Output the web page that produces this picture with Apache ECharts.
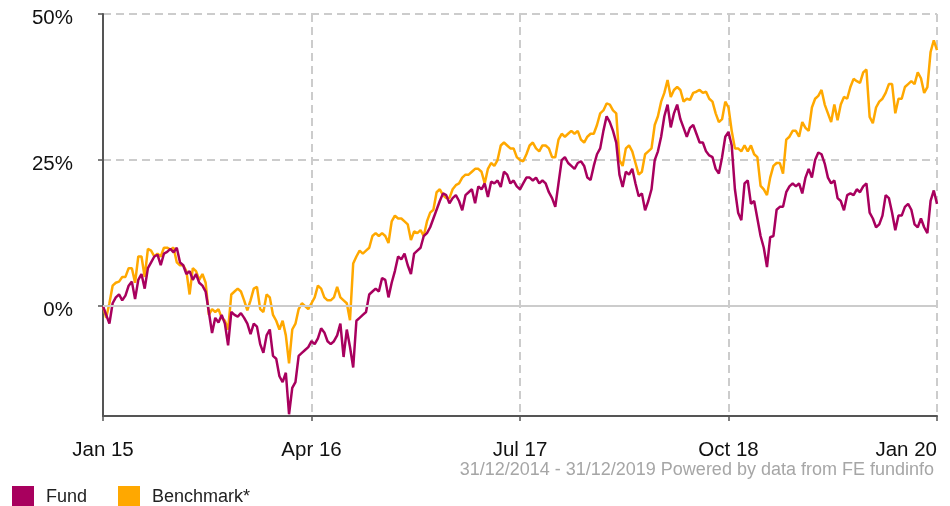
<!DOCTYPE html>
<html>
<head>
<meta charset="utf-8">
<script src="https://cdn.jsdelivr.net/npm/echarts@6/dist/echarts.min.js"></script>
<style>
html,body{margin:0;padding:0;background:#fff;}
#chart{width:950px;height:506px;}
</style>
</head>
<body>
<div id="chart"></div>
<script>
// Weekly sampled cumulative performance (%), 31/12/2014 - 31/12/2019
const xTickLabels = ['Jan 15', 'Apr 16', 'Jul 17', 'Oct 18', 'Jan 20'];
const yTickValues = [0, 25, 50];

const fund = [
0,-1.5,-3,0.5,1.5,2,1,1.8,3.5,4.2,1.2,4.5,5.5,3,6.5,7.5,8.5,8.8,7,9,
9.3,9.8,9.2,10,7.5,7,5.5,6,4.5,5.5,4,3.5,2.5,-1,-4.6,-2,-2.8,-1.5,-3,-6.7,
-1,-1.5,-1.8,-1.2,-2,-3,-4.8,-3,-3.5,-6.5,-8,-5,-4,-8.5,-9,-12,-13,-11.4,-18.5,-14,
-13,-8.5,-8,-7.5,-7,-6,-6.5,-5.5,-3.8,-4.5,-6,-6.5,-6,-5,-3,-8.7,-4,-7,-10.5,-2.5,
-2,-1.5,-1,2,2.5,3,2.5,4.8,4.5,1.5,4,6,8.5,8,9,7,5.5,9,9.5,10,
12,12.5,13.5,15,16.5,18,19.3,19,17.6,18.5,19,18,16.4,19,19.5,20,17.6,20.5,20,21,
18.7,21.3,21,21.5,20.4,23,22.5,21,21.5,20.5,20,21,22,22,21.5,22,21,21.5,21,19.5,
18.5,17,21,25,25.5,24.5,24,23.5,24.5,24.8,24,22,21.6,24,26,27,30,32.5,31.5,30,
28,22.5,20.4,23,22.5,23.5,21,18.8,19.3,16.4,18,20,25,26.5,29,32.5,34.5,30.6,33,34.5,
32,30.5,29,30.5,31,29.5,28,28,26.5,25.8,25.5,23.5,22.7,25.5,29,29.8,27.5,20,16,14.7,
21,21.5,17.5,18,15,12,10,6.7,11.8,12,16.5,17,17,19.5,20.5,21,20.5,21,19.3,22,
23.5,22,25,26.3,26,24.4,22,21,21.5,18.5,18,16.4,19,19.3,19,20,19.5,20.5,21,16,
15,13.5,14,15.5,19,18.5,16,13,15.5,15.5,17,17.5,16.5,14,13.5,15,13.5,12.5,18,19.8,
17.5
];

const benchmark = [
0,-2,0.5,3.5,4,4.2,5,5,6.5,6.5,4,8.5,8.5,5,9.8,9.5,8.5,9,8.5,10,
10,9.7,10,7.5,7,7,6,2,6.5,6,4.5,5.5,4,-1.5,-0.5,-1,-0.5,-2,-2.5,-4,
2,2.5,3,2.5,1,-0.7,1,3,3.3,-0.5,-1,2,1.5,-1.5,-2.5,-4,-2.5,-5,-9.8,-4,
-3,-0.5,0.5,0,-0.5,0.5,1.5,3.5,3,1.5,1,1,1.5,3.3,1.5,1,0.5,-2.4,7.3,8.5,
9.5,9,9.5,10,12,12.5,12,12.5,12,10.8,14.5,15.5,15,15,14.5,14,11.3,12.8,12.5,13,
12,14.5,16,16.5,19.5,20,19,18.5,18.5,20,20.7,21,22,22.5,22.5,23,23.5,23.5,23,21,
23.5,24.5,24,25,27.5,28,27.5,27,27,25.5,25,24.8,26,27.5,28,27,26.5,27.5,27.5,27,
25.5,25.5,28.5,29.5,29,29.5,30,29.5,30,28.5,28,29,29.5,29.5,31,33,33.5,34.7,34.5,33.5,
33,25,24,27,27.5,26.5,24.5,22.5,23,26,26.5,27,31,32.5,35,36.5,38.7,35.8,37,37.5,
37,35,35.5,35.3,36.5,36.7,37,36.5,36.7,35.5,35,33,31.5,32,35,34,30,27,27,26.5,
27.5,26.5,27.5,26,25.5,20.6,20,19,22,24,24.5,24.5,22.7,28.5,29,30,30,29,31.5,30.5,
30,34,35.5,36,37,34.5,33,31.5,34.5,31.8,34.5,35.8,35.5,37.5,38.9,38.5,38.2,40,40.5,32.4,
31.3,34,35,35.5,36.5,38,38,33,35.5,35.5,37.5,38,38.5,38,40,39,36.5,37.5,43.5,45.5,
43.8
];

const weeksPerTick = 65;
const toPairs = arr => arr.map((v, i) => [i, v]);

const chart = echarts.init(document.getElementById('chart'), null, {renderer: 'canvas'});
const FONT = 'Liberation Sans, Arial, Helvetica, sans-serif';

chart.setOption({
  animation: false,
  backgroundColor: '#ffffff',
  textStyle: {fontFamily: FONT},
  grid: {left: 103, right: 13, top: 14, bottom: 90, containLabel: false},
  legend: {
    data: ['Fund', 'Benchmark*'],
    left: 12, top: 486, padding: 0,
    itemWidth: 22, itemHeight: 22, itemGap: 31,
    icon: 'rect',
    selectedMode: false,
    textStyle: {fontSize: 18, color: '#222', fontFamily: FONT, padding: [0, 0, 0, 7]}
  },
  graphic: [{
    type: 'text',
    right: 16, top: 461,
    style: {
      text: '31/12/2014 - 31/12/2019 Powered by data from FE fundinfo',
      fontSize: 18, fill: '#a6a6a6', fontFamily: FONT
    }
  }],
  xAxis: {
    type: 'value',
    min: 0, max: 260, interval: weeksPerTick,
    axisLine: {show: true, onZero: false, lineStyle: {color: '#555', width: 2}},
    axisTick: {show: true, length: 5, lineStyle: {color: '#555', width: 1.5}},
    axisLabel: {
      fontSize: 20.5, color: '#111', margin: 24, fontFamily: FONT,
      showMinLabel: true, showMaxLabel: true, alignMaxLabel: 'right',
      formatter: v => xTickLabels[Math.round(v / weeksPerTick)] || ''
    },
    splitLine: {show: true, lineStyle: {color: '#cccccc', width: 2, type: [8, 5]}}
  },
  yAxis: {
    type: 'value',
    min: -18.8, max: 50,
    axisLine: {show: true, lineStyle: {color: '#555', width: 2}},
    axisTick: {show: true, length: 5, customValues: yTickValues, lineStyle: {color: '#555', width: 1.5}},
    axisLabel: {
      fontSize: 20.5, color: '#111', margin: 30, fontFamily: FONT,
      customValues: yTickValues, verticalAlign: 'top', lineHeight: 8,
      formatter: v => v + '%'
    },
    splitLine: {show: true, lineStyle: {color: '#cccccc', width: 2, type: [8, 5]}}
  },
  series: [
    {
      name: 'zero', type: 'line', data: [], z: 1, silent: true,
      markLine: {
        silent: true, symbol: 'none', label: {show: false},
        lineStyle: {color: '#cccccc', width: 2, type: 'solid'},
        data: [{yAxis: 0}]
      }
    },
    {
      name: 'Benchmark*', type: 'line', data: toPairs(benchmark),
      showSymbol: false, symbol: 'none', color: '#FFA800',
      lineStyle: {width: 2.5, color: '#FFA800'}, z: 3
    },
    {
      name: 'Fund', type: 'line', data: toPairs(fund),
      showSymbol: false, symbol: 'none', color: '#A8005E',
      lineStyle: {width: 2.5, color: '#A8005E'}, z: 4
    }
  ]
});
</script>
</body>
</html>
